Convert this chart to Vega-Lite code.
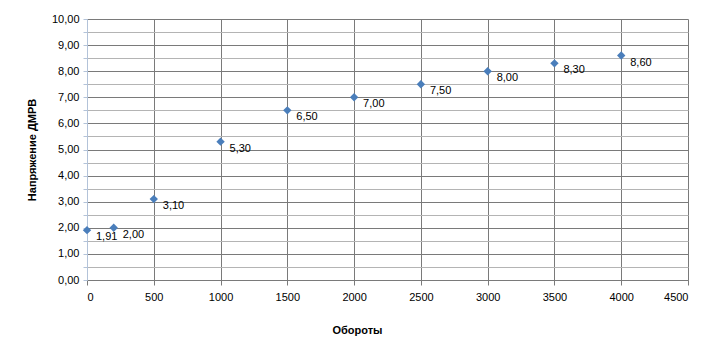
{
  "$schema": "https://vega.github.io/schema/vega-lite/v6.json",
  "autosize": "none",
  "width": 601,
  "height": 261,
  "padding": {"left": 87, "top": 19, "right": 28, "bottom": 75},
  "background": "white",
  "config": {
    "font": "Liberation Sans",
    "view": {"stroke": null},
    "locale": {"number": {"decimal": ",", "thousands": " ", "grouping": [3], "currency": ["", ""]}}
  },
  "data": {"values": [
    {"rpm": 0, "v": 1.91},
    {"rpm": 200, "v": 2.00},
    {"rpm": 500, "v": 3.10},
    {"rpm": 1000, "v": 5.30},
    {"rpm": 1500, "v": 6.50},
    {"rpm": 2000, "v": 7.00},
    {"rpm": 2500, "v": 7.50},
    {"rpm": 3000, "v": 8.00},
    {"rpm": 3500, "v": 8.30},
    {"rpm": 4000, "v": 8.60}
  ]},
  "encoding": {
    "x": {
      "field": "rpm", "type": "quantitative",
      "scale": {"domain": [0, 4500], "nice": false},
      "axis": {
        "title": "Обороты", "titleFont": "Liberation Sans", "titleFontSize": 11, "titleFontWeight": "bold", "titlePadding": 22, "titleColor": "#000",
        "titleX": 270,
        "values": [0, 500, 1000, 1500, 2000, 2500, 3000, 3500, 4000, 4500],
        "format": "d", "labelFontSize": 11, "labelColor": "#000", "labelPadding": 6,
        "grid": true, "gridColor": "#7a7a7a", "gridWidth": 1,
        "domainColor": "#7a7a7a", "tickColor": "#7a7a7a", "tickSize": 5
      }
    },
    "y": {
      "field": "v", "type": "quantitative",
      "scale": {"domain": [0, 10], "nice": false},
      "axis": {
        "title": "Напряжение ДМРВ", "titleFont": "Liberation Sans", "titleFontSize": 11, "titleFontWeight": "bold", "titlePadding": 14, "titleColor": "#000",
        "values": [0, 0.5, 1, 1.5, 2, 2.5, 3, 3.5, 4, 4.5, 5, 5.5, 6, 6.5, 7, 7.5, 8, 8.5, 9, 9.5, 10],
        "labelExpr": "datum.value % 1 === 0 ? format(datum.value, '.2f') : ''",
        "labelFontSize": 11, "labelColor": "#000", "labelPadding": 4,
        "grid": true,
        "gridColor": {"condition": {"test": "datum.value % 1 !== 0", "value": "#b4b4b4"}, "value": "#7a7a7a"},
        "domainColor": "#b3c3d9", "tickColor": "#b3c3d9", "tickSize": 4
      }
    }
  },
  "layer": [
    {"mark": {"type": "point", "shape": "diamond", "filled": true, "color": "#4a7ebb", "opacity": 1, "size": 70}},
    {"mark": {"type": "text", "align": "left", "baseline": "middle", "dx": 9, "dy": 7, "fontSize": 11, "color": "#000", "font": "Liberation Sans"},
     "encoding": {"text": {"field": "v", "type": "quantitative", "format": ".2f"}}}
  ]
}
